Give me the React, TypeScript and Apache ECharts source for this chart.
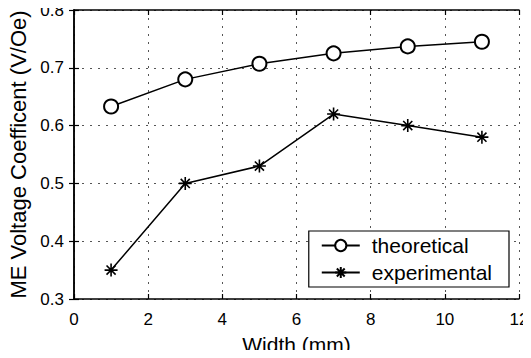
import React, { useEffect, useRef } from "react";
import * as echarts from "echarts";

const widths = [1, 3, 5, 7, 9, 11];
const theoretical = [0.633, 0.68, 0.707, 0.725, 0.737, 0.745];
const experimental = [0.35, 0.5, 0.53, 0.62, 0.6, 0.58];

const FONT = "Liberation Sans, Arial, Helvetica, sans-serif";
const STAR = "path://M0,-6L0,6M-6,0L6,0M-4.2,-4.2L4.2,4.2M-4.2,4.2L4.2,-4.2";

export default function App() {
  const ref = useRef<HTMLDivElement>(null);
  useEffect(() => {
    if (!ref.current) return;
    const chart = echarts.init(ref.current, null, { renderer: "svg" });
    const axisLine = { show: true, lineStyle: { color: "#000", width: 1.5 } };
    const tick = { show: true, inside: true, length: 5, lineStyle: { color: "#000", width: 1.2 } };
    const label = { color: "#000", fontSize: 17, fontFamily: FONT };
    const grid = { show: true, lineStyle: { color: "#555", type: [2, 6], width: 1 } };
    chart.setOption({
      animation: false,
      backgroundColor: "#fff",
      grid: { left: 74, top: 10, right: 12, bottom: 59, containLabel: false, outerBoundsMode: "none" },
      legend: {
        orient: "vertical",
        right: 22,
        bottom: 71,
        data: ["theoretical", "experimental"],
        itemWidth: 38,
        itemHeight: 14,
        itemGap: 6,
        borderColor: "#000",
        borderWidth: 1.2,
        borderRadius: 0,
        padding: [4, 17, 4, 12],
        backgroundColor: "#fff",
        textStyle: { color: "#000", fontSize: 21, fontFamily: FONT, padding: [0, 0, 0, 7], lineHeight: 20 },
      },
      xAxis: [
        {
          type: "value",
          min: 0,
          max: 12,
          interval: 2,
          name: "Width (mm)",
          nameLocation: "middle",
          nameGap: 35,
          nameTextStyle: { color: "#000", fontSize: 21, fontFamily: FONT },
          axisLine,
          axisTick: tick,
          axisLabel: { ...label, margin: 12 },
          splitLine: grid,
        },
        {
          type: "value",
          position: "top",
          min: 0,
          max: 12,
          interval: 2,
          axisLine,
          axisTick: tick,
          axisLabel: { show: false },
          splitLine: { show: false },
        },
      ],
      yAxis: [
        {
          type: "value",
          min: 0.3,
          max: 0.8,
          interval: 0.1,
          name: "ME Voltage Coefficent (V/Oe)",
          nameLocation: "middle",
          nameGap: 45,
          nameTextStyle: { color: "#000", fontSize: 22, fontFamily: FONT },
          axisLine,
          axisTick: tick,
          axisLabel: { ...label, margin: 10, padding: [5, 0, 0, 0], formatter: (v: number) => v.toFixed(1) },
          splitLine: grid,
        },
        {
          type: "value",
          position: "right",
          min: 0.3,
          max: 0.8,
          interval: 0.1,
          axisLine,
          axisTick: tick,
          axisLabel: { show: false },
          splitLine: { show: false },
        },
      ],
      series: [
        {
          name: "theoretical",
          type: "line",
          data: widths.map((w, i) => [w, theoretical[i]]),
          symbol: "emptyCircle",
          symbolSize: 14,
          lineStyle: { color: "#000", width: 1.5 },
          itemStyle: { color: "#000", borderColor: "#000", borderWidth: 1.6 },
        },
        {
          name: "experimental",
          type: "line",
          data: widths.map((w, i) => [w, experimental[i]]),
          symbol: STAR,
          symbolSize: 13,
          lineStyle: { color: "#000", width: 1.5 },
          itemStyle: { color: "#000", borderColor: "#000", borderWidth: 1.6 },
        },
      ],
    });
    return () => chart.dispose();
  }, []);
  return <div ref={ref} style={{ width: 531, height: 358, margin: -8 }} />;
}
